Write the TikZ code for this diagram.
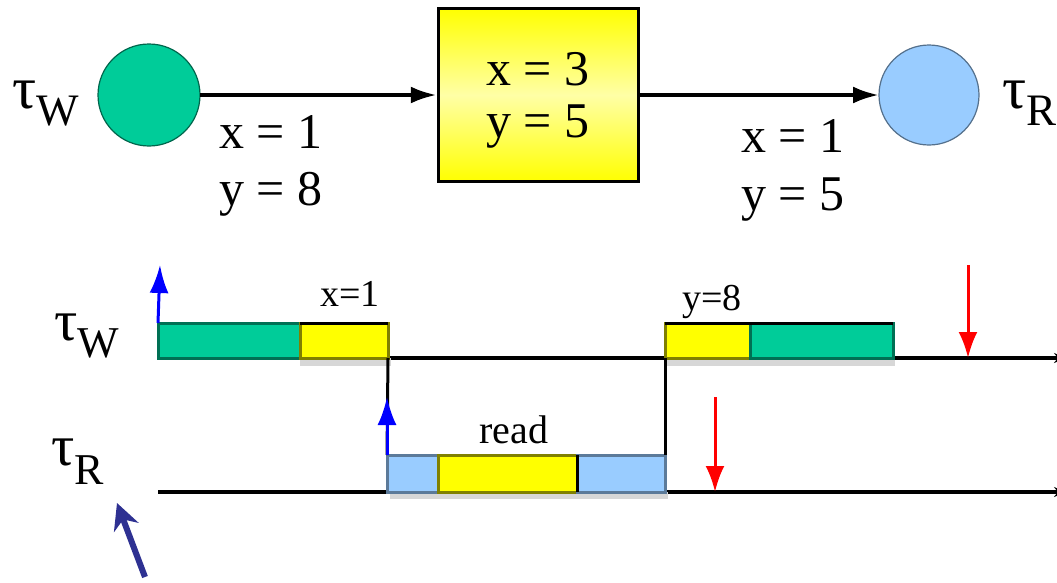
\documentclass[tikz,border=0pt]{standalone}
\usepackage{fontspec}
\setmainfont{Liberation Serif}
\newfontfamily\timesface{Liberation Serif}
\usetikzlibrary{arrows.meta,shadings}
\definecolor{tgreen}{RGB}{0,204,153}
\definecolor{tblue}{RGB}{153,204,255}
\definecolor{tyellow}{RGB}{255,255,0}
\definecolor{navyarrow}{RGB}{46,49,146}
\definecolor{shadowgray}{RGB}{215,215,215}
\begin{document}
\begin{tikzpicture}[x=1pt,y=-1pt,
  big/.style={inner sep=0pt,anchor=base,font=\timesface\fontsize{50}{52}\selectfont},
  small/.style={inner sep=0pt,anchor=base,font=\timesface\fontsize{38}{40}\selectfont},
  tlabel/.style={inner sep=0pt,anchor=base west,font=\timesface},
  flow/.style={line width=4pt,-{Latex[length=26pt,width=17pt]}},
  seg/.style={rectangle,inner sep=0pt,outer sep=0pt,minimum height=35pt,anchor=south west,line width=3pt},
  greenseg/.style={seg,fill=tgreen,draw=tgreen!55!black},
  yellowseg/.style={seg,fill=tyellow,draw=tyellow!50!black},
  blueseg/.style={seg,fill=tblue,draw=tblue!60!black},
  axis/.style={line width=3.5pt,-{Stealth[length=12pt,width=10pt]}},
  link/.style={line width=3pt},
  release/.style={line width=3pt,blue,-{Latex[length=28pt,width=19pt]}},
  deadline/.style={line width=3pt,red,-{Latex[length=26pt,width=19pt]}},
  shadowbar/.style={fill=shadowgray,draw=none}
]
\useasboundingbox (0,0) rectangle (1057,582);
\clip (0,0) rectangle (1057,582);
\fill[white] (0,0) rectangle (1057,582);

% ---- data flow: writer -> buffer -> reader ----
\node[circle,minimum size=102pt,inner sep=0pt,outer sep=0pt,fill=tgreen,draw=tgreen!50!black,line width=1.2pt] (cw) at (149,95) {};
\node[circle,minimum size=100pt,inner sep=0pt,outer sep=0pt,fill=tblue,draw=tblue!55!black,line width=1.2pt] (cr) at (929,95) {};
\node[rectangle,minimum width=200pt,minimum height=173pt,inner sep=0pt,outer sep=1.75pt,
      draw=black,line width=3.5pt,top color=tyellow,bottom color=tyellow,middle color=tyellow!35] (buf) at (538.5,95) {};
\node[big] (bx) at (538,85) {x = 3};
\node[big] (by) at (538,137) {y = 5};
\draw[flow] (cw.east) -- (buf.west);
\draw[flow] (buf.east) -- (cr.west);

\node[tlabel] (tw) at (12,108) {\fontsize{60}{60}\selectfont τ\raisebox{-17pt}{\fontsize{45}{45}\selectfont W}};
\node[tlabel] (tr) at (1002,108) {\fontsize{60}{60}\selectfont τ\raisebox{-17pt}{\fontsize{45}{45}\selectfont R}};

\node[big,anchor=base west] (lx) at (219,148) {x = 1};
\node[big,anchor=base west] (ly) at (219,205) {y = 8};
\node[big,anchor=base west] (rx) at (741,152) {x = 1};
\node[big,anchor=base west] (ry) at (741,210) {y = 5};

% ---- timelines ----
\node[tlabel] (ltw) at (54,340) {\fontsize{58}{58}\selectfont τ\raisebox{-17pt}{\fontsize{44}{44}\selectfont W}};
\node[tlabel] (ltr) at (51,465) {\fontsize{58}{58}\selectfont τ\raisebox{-19pt}{\fontsize{44}{44}\selectfont R}};

\coordinate (w0) at (158,358);
\coordinate (w1) at (1066,358);
\coordinate (r0) at (158,492);
\coordinate (r1) at (1066,492);
\draw[axis] (w0) -- (w1);
\draw[axis] (r0) -- (r1);

% drop shadows under the execution bars
\fill[shadowbar] (300,358) rectangle (391,366);
\fill[shadowbar] (665,358) rectangle (895,366);
\fill[shadowbar] (390,492) rectangle (668,499);

% writer job 1
\node[greenseg,minimum width=142pt] (g1) at (158,358) {};
\node[yellowseg,minimum width=88pt] (y1) at (300,358) {};
\draw[line width=3pt] (y1.north west) -- (y1.north east);
% writer job 2
\node[yellowseg,minimum width=85pt] (y2) at (665,358) {};
\node[greenseg,minimum width=143pt] (g2) at (750,358) {};
\draw[line width=3pt] (y2.north west) -- (g2.north east);

% reader job
\node[blueseg,minimum width=51pt,minimum height=37pt] (b1) at (387,492) {};
\node[yellowseg,minimum width=139pt,minimum height=37pt] (yr) at (438,492) {};
\node[blueseg,minimum width=88pt,minimum height=37pt] (b2) at (577,492) {};
\draw[line width=3pt] (yr.north east) -- (yr.south east);

\node[small] (lx1) at (350,306) {x=1};
\node[small] (ly8) at (712,310) {y=8};
\node[inner sep=0pt,anchor=base,font=\timesface\fontsize{40}{42}\selectfont] (lread) at (514,443) {read};

% precedence links between the jobs
\draw[link] (y1.south east) -- (b1.north west);
\draw[link] (b2.north east) -- (y2.south west);

% releases and deadlines
\coordinate (relw) at (160,265);
\coordinate (relr) at (387,397);
\draw[release] (g1.north west) -- (relw);
\draw[release] (b1.north west) -- (relr);
\coordinate (dlw) at (968,265);
\coordinate (dlwe) at (968,358);
\coordinate (dlr) at (715,397);
\coordinate (dlre) at (715,492);
\draw[deadline] (dlw) -- (dlwe);
\draw[deadline] (dlr) -- (dlre);

% pointer to the reader task
\coordinate (pa) at (145,577);
\coordinate (pb) at (117,503);
\draw[navyarrow,line width=6pt,-{Stealth[length=26pt,width=26pt]}] (pa) -- (pb);
\end{tikzpicture}
\end{document}
